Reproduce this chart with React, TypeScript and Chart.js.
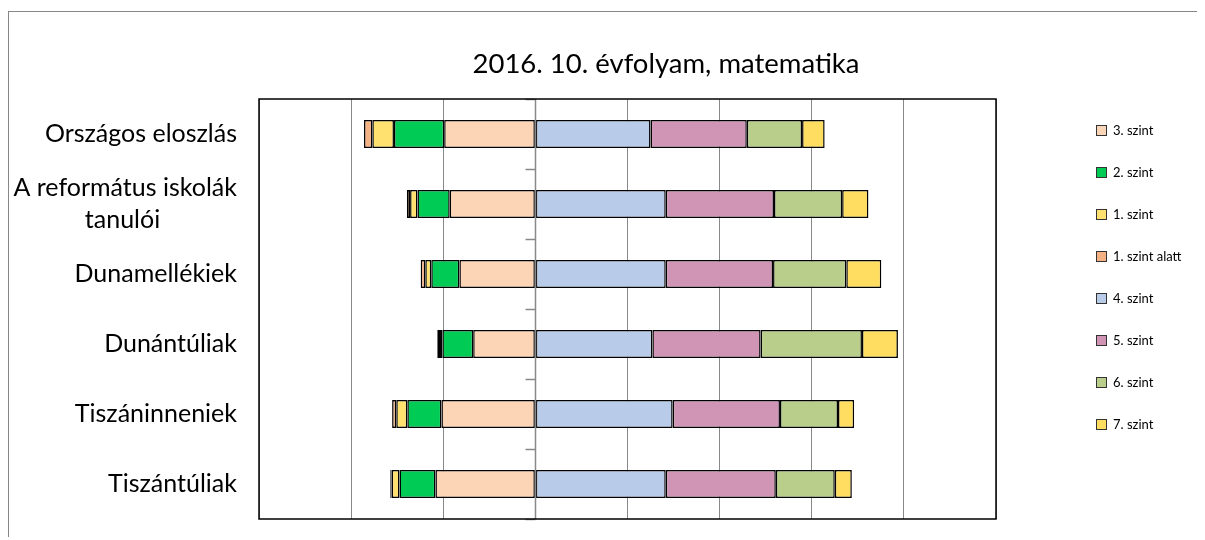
import React, { useEffect, useRef } from 'react';
import { Chart, registerables } from 'chart.js';

Chart.register(...registerables);

// ---- data (percent) ----
const categories: (string | string[])[] = [
  'Országos eloszlás',
  ['A református iskolák', 'tanulói'],
  'Dunamellékiek',
  'Dunántúliak',
  'Tiszáninneniek',
  'Tiszántúliak',
];

const seriesNames = ['3. szint', '2. szint', '1. szint', '1. szint alatt', '4. szint', '5. szint', '6. szint', '7. szint'];

// below level 4 (drawn to the left)
const szint3 = [19.8, 18.6, 16.5, 13.5, 20.4, 21.7];
const szint2 = [10.9, 7.0, 6.1, 6.7, 7.4, 7.8];
const szint1 = [4.7, 1.6, 1.3, 0.5, 2.4, 1.7];
const szintAlatt = [1.8, 0.7, 1.0, 0.6, 0.9, 0.3];
// level 4 and above (drawn to the right)
const szint4 = [25.0, 28.3, 28.3, 25.4, 29.8, 28.3];
const szint5 = [20.9, 23.5, 23.3, 23.5, 23.3, 23.9];
const szint6 = [12.0, 14.8, 15.9, 22.0, 12.6, 12.8];
const szint7 = [4.9, 5.7, 7.6, 7.8, 3.5, 3.7];

const seriesColors = ['#FBD5B5', '#00CC55', '#FFE170', '#F4B183', '#B8CCE9', '#D095B5', '#B8CE8A', '#FFDD60'];

const xMin = -60;
const xMax = 100;
const xStep = 20;

const chartTitle = '2016. 10. évfolyam, matematika';

const FONT = "Lato, 'Open Sans', sans-serif";
const LABEL_SIZE = 25;

export default function App() {
  const ref = useRef<HTMLCanvasElement>(null);

  useEffect(() => {
    document.documentElement.style.overflow = 'hidden';
    const meas = document.createElement('canvas').getContext('2d')!;
    meas.font = `${LABEL_SIZE}px ${FONT}`;
    const nbspW = meas.measureText('\u00A0').width || 5;
    const centerLines = (lines: string[]) => {
      const widths = lines.map((l) => meas.measureText(l).width);
      const maxW = Math.max(...widths);
      return lines.map((l, i) => {
        const n = Math.round((maxW - widths[i]) / 2 / nbspW);
        return l + '\u00A0'.repeat(Math.max(0, n));
      });
    };

    const values = [szint3, szint2, szint1, szintAlatt, szint4, szint5, szint6, szint7];
    const datasets = values.map((vals, i) => ({
      label: seriesNames[i],
      data: i < 4 ? vals.map((v) => -v) : vals.slice(),
      backgroundColor: seriesColors[i],
      borderColor: '#000',
      borderWidth: 1.5,
      borderSkipped: false as const,
      barPercentage: 0.4,
      categoryPercentage: 1,
      stack: 's',
    }));

    const deco = {
      id: 'deco',
      afterDatasetsDraw(chart: any) {
        const { ctx, chartArea, scales } = chart;
        const xs = scales.x;
        const ys = scales.y;
        const x0 = Math.round(xs.getPixelForValue(0)) + 0.5;
        ctx.save();
        ctx.strokeStyle = '#898989';
        ctx.lineWidth = 1.5;
        ctx.beginPath();
        ctx.moveTo(x0, chartArea.top);
        ctx.lineTo(x0, chartArea.bottom);
        ctx.stroke();
        for (let i = 0; i <= categories.length; i++) {
          const y = Math.round(ys.getPixelForValue(i - 0.5)) + 0.5;
          ctx.beginPath();
          ctx.moveTo(x0 - 10, y);
          ctx.lineTo(x0, y);
          ctx.stroke();
        }
        ctx.restore();
      },
      afterDraw(chart: any) {
        const { ctx, chartArea } = chart;
        ctx.save();
        ctx.strokeStyle = '#000';
        ctx.lineWidth = 1.5;
        ctx.strokeRect(chartArea.left, chartArea.top, chartArea.right - chartArea.left, chartArea.bottom - chartArea.top);
        ctx.restore();
      },
    };

    const chart = new Chart(ref.current!, {
      type: 'bar',
      data: { labels: categories as any, datasets: datasets as any },
      options: {
        indexAxis: 'y',
        responsive: false,
        animation: false,
        layout: { padding: { left: 0, right: 209, top: 87, bottom: 21 } },
        plugins: {
          legend: { display: false },
          title: { display: false },
          tooltip: { enabled: false },
        },
        scales: {
          x: {
            stacked: true,
            min: xMin,
            max: xMax,
            ticks: { display: false, stepSize: xStep },
            grid: { color: '#898989', lineWidth: 1, drawTicks: false },
            border: { display: false },
            afterFit: (s: any) => {
              s.height = 0;
              s.paddingLeft = 0;
              s.paddingRight = 0;
            },
          },
          y: {
            stacked: true,
            grid: { display: false, drawTicks: false },
            border: { display: false },
            ticks: {
              color: '#000',
              autoSkip: false,
              padding: 22,
              font: { family: FONT, size: LABEL_SIZE, lineHeight: 1.28 },
              callback: function (this: any, value: any) {
                const l = this.getLabelForValue(value);
                return Array.isArray(l) ? centerLines(l) : l;
              },
            },
            afterFit: (s: any) => {
              s.width = 250;
              s.paddingTop = 0;
              s.paddingBottom = 0;
            },
          },
        },
      } as any,
      plugins: [deco],
    });
    return () => chart.destroy();
  }, []);

  return (
    <div
      style={{
        position: 'relative',
        top: 3,
        width: 1196,
        marginRight: -8,
        height: 528,
        borderLeft: '1px solid #878787',
        borderTop: '1px solid #878787',
        fontFamily: FONT,
      }}
    >
      <canvas ref={ref} width={1196} height={528} style={{ position: 'absolute', left: 0, top: 0, width: 1196, height: 528 }} />
      <div
        style={{
          position: 'absolute',
          left: 657,
          top: 50,
          transform: 'translate(-50%, -50%)',
          whiteSpace: 'nowrap',
          fontSize: 27.5,
          color: '#000',
        }}
      >
        {chartTitle}
      </div>
      {seriesNames.map((name, i) => (
        <div
          key={name}
          style={{
            position: 'absolute',
            left: 1087,
            top: 118 + 42 * i - 10,
            height: 20,
            display: 'flex',
            alignItems: 'center',
            whiteSpace: 'nowrap',
            fontSize: 13,
            color: '#000',
          }}
        >
          <span
            style={{
              display: 'inline-block',
              width: 9,
              height: 9,
              background: seriesColors[i],
              border: '1px solid #333',
              marginRight: 6,
            }}
          />
          <span>{name}</span>
        </div>
      ))}
    </div>
  );
}
